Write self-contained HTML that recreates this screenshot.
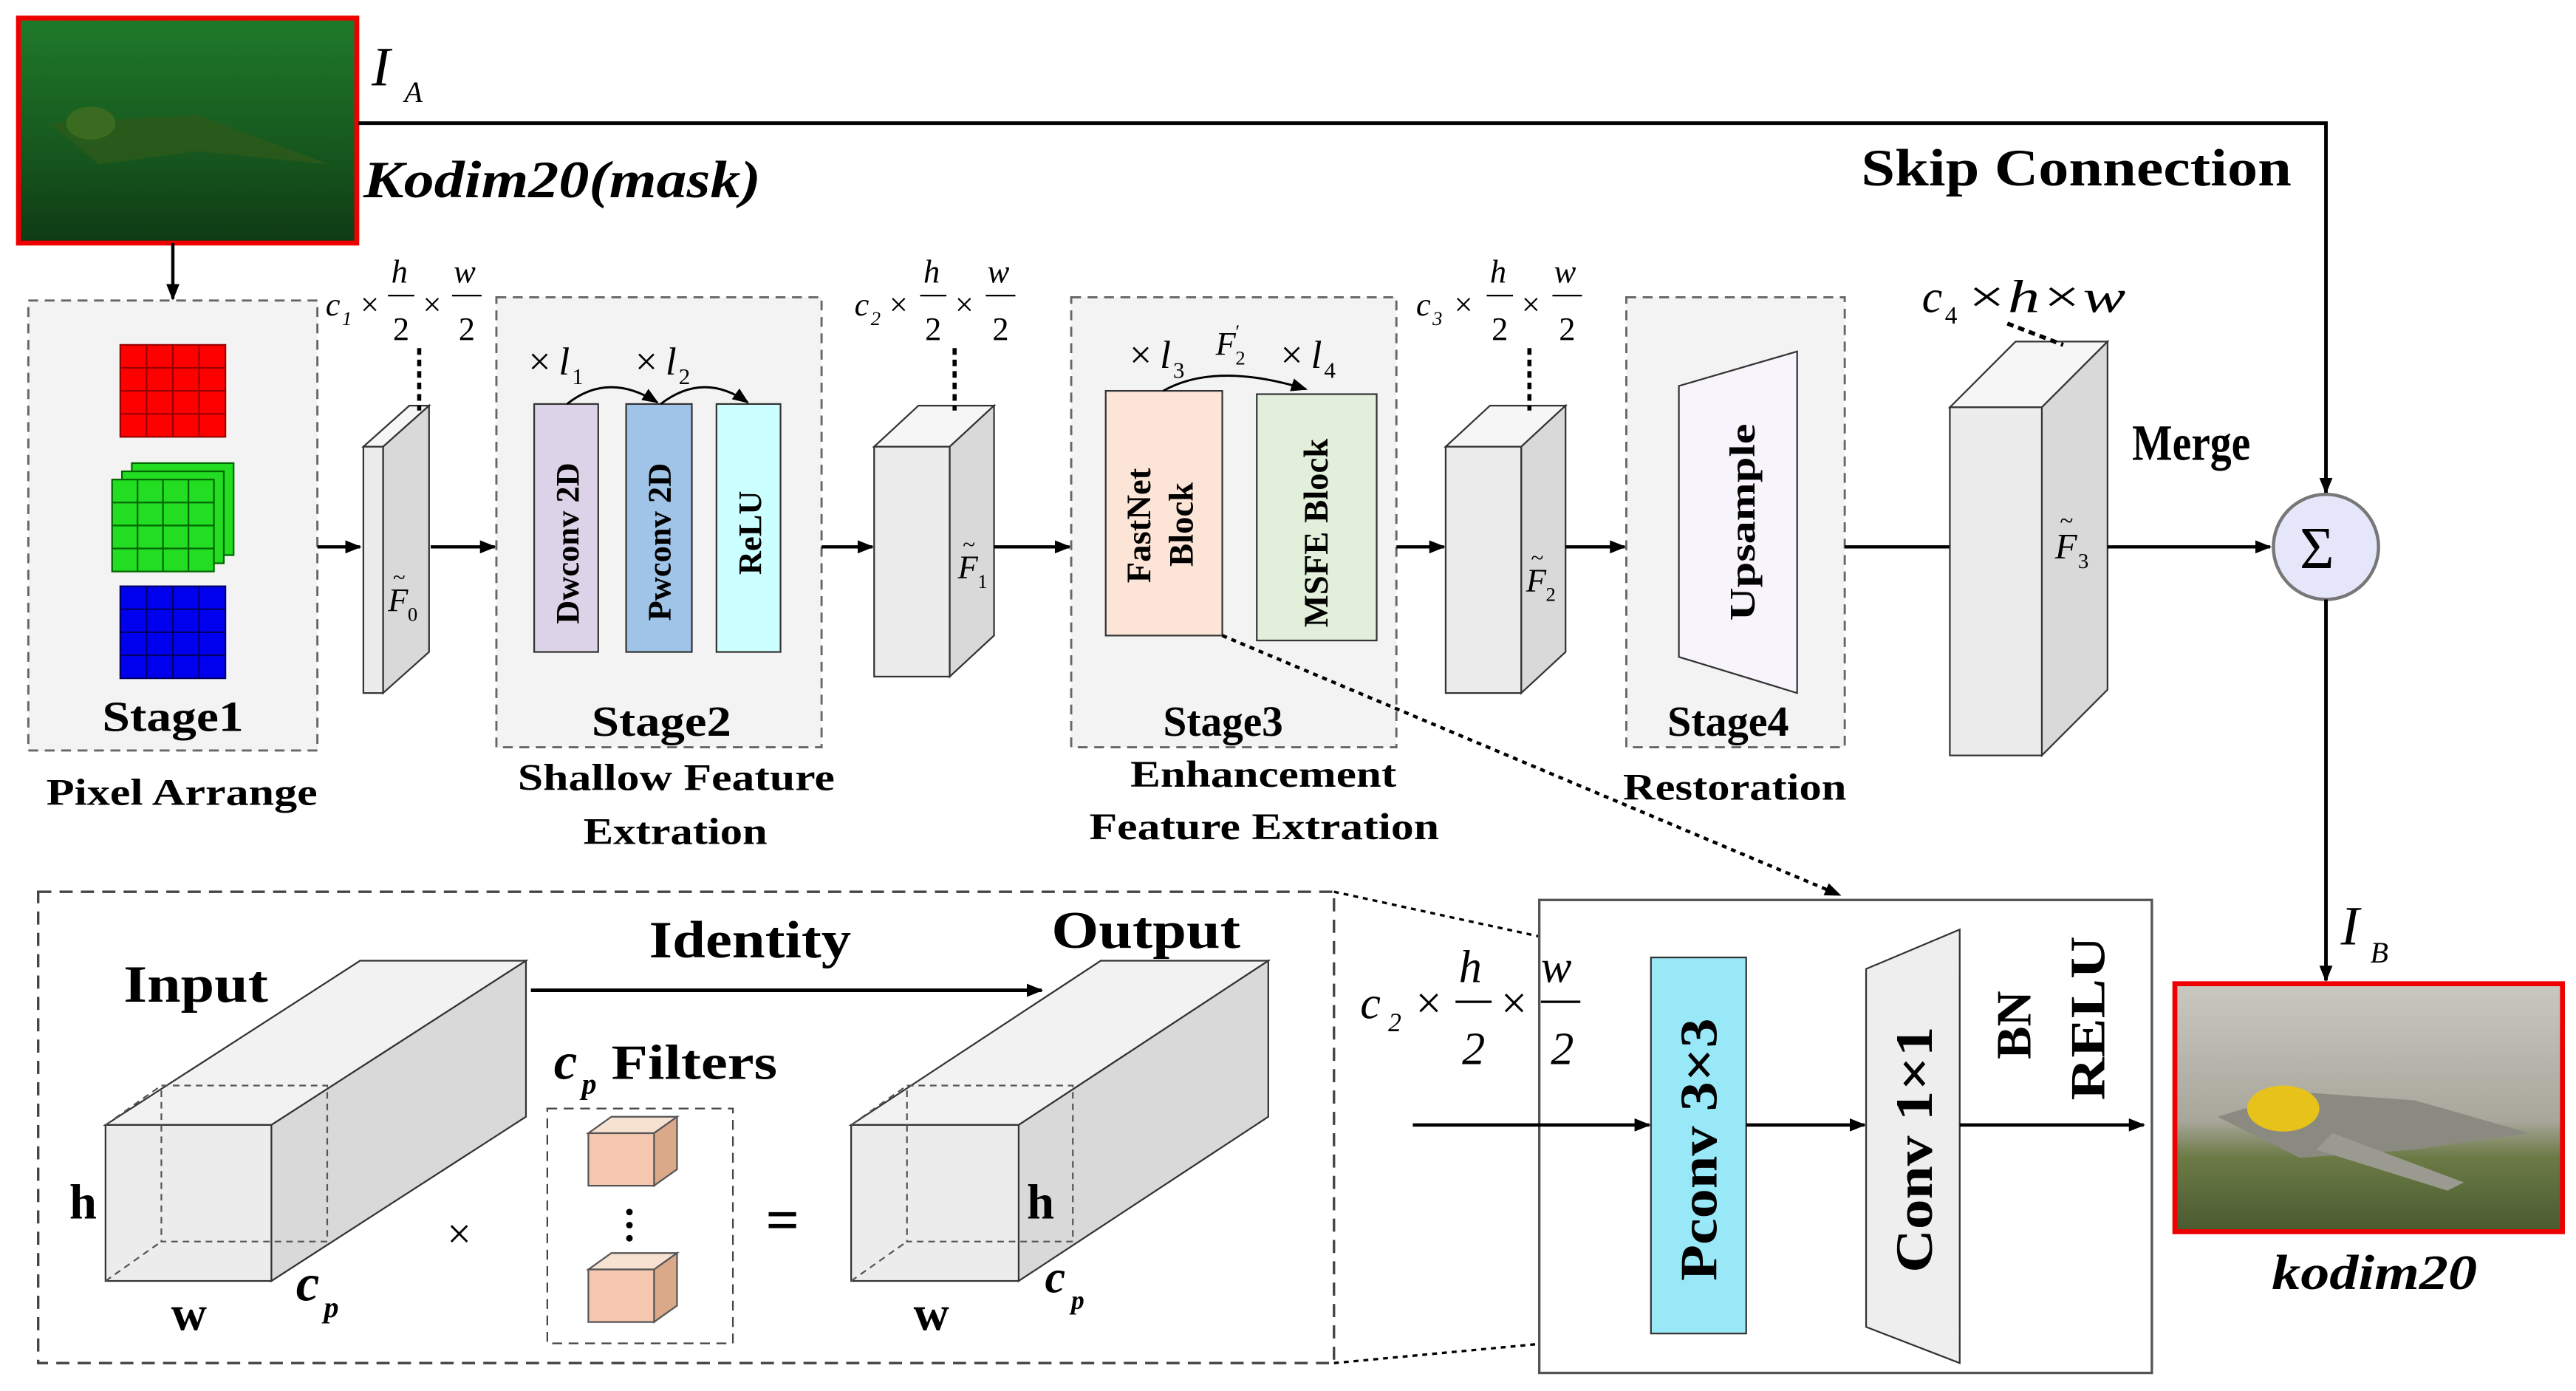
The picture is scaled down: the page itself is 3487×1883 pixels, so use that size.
<!DOCTYPE html>
<html><head><meta charset="utf-8"><style>
html,body{margin:0;padding:0;background:#fff;}
svg{display:block;}
text{font-family:"Liberation Serif",serif;fill:#000;}
.b{font-weight:bold;}
.i{font-style:italic;}
</style></head><body>
<svg width="3487" height="1883" viewBox="0 0 1568 847" xmlns="http://www.w3.org/2000/svg">
<defs>
<marker id="a" markerWidth="10" markerHeight="8" refX="9" refY="4" orient="auto" markerUnits="userSpaceOnUse"><path d="M0,0 L10,4 L0,8 z" fill="#000"/></marker>
<linearGradient id="g1" x1="0" y1="0" x2="0" y2="1"><stop offset="0" stop-color="#1f7a2a"/><stop offset="0.6" stop-color="#16571e"/><stop offset="1" stop-color="#0f3a14"/></linearGradient>
<linearGradient id="g2" x1="0" y1="0" x2="0" y2="1"><stop offset="0" stop-color="#c9c8c0"/><stop offset="0.55" stop-color="#a9a79c"/><stop offset="0.7" stop-color="#6b7a45"/><stop offset="1" stop-color="#4a5a30"/></linearGradient>
</defs>
<rect width="1568" height="847" fill="#fff"/>

<rect x="11" y="11" width="206" height="137" fill="url(#g1)" stroke="#e00" stroke-width="3"/>
<path d="M30,75 L120,70 L200,100 L120,92 L60,100 Z" fill="#2d5a1a" opacity="0.8"/>
<ellipse cx="55" cy="75" rx="15" ry="10" fill="#3b6b20"/>
<text x="226" y="52" class="i" font-size="34">I</text><text x="246" y="62" class="i" font-size="18">A</text>
<text x="221" y="120" class="b i" font-size="32" textLength="242" lengthAdjust="spacingAndGlyphs">Kodim20(mask)</text>
<text x="1133" y="113" class="b" font-size="32" textLength="262" lengthAdjust="spacingAndGlyphs">Skip Connection</text>
<polyline points="218,75 1416,75 1416,300" fill="none" stroke="#000" stroke-width="2.2" marker-end="url(#a)"/>
<line x1="105" y1="148" x2="105" y2="182" stroke="#000" stroke-width="2" marker-end="url(#a)"/>

<rect x="17" y="183" width="176" height="274" fill="#f3f3f3" stroke="#666" stroke-dasharray="6,4" stroke-width="1.3"/>
<g stroke="#900" stroke-width="1"><rect x="73" y="210" width="64" height="56" fill="#f00"/>
<path d="M89 210V266M105 210V266M121 210V266M73 224H137M73 238H137M73 252H137"/></g>
<g stroke="#060" stroke-width="1" fill="#22dd22">
<rect x="80" y="282" width="62" height="56"/><rect x="74" y="287" width="62" height="56"/><rect x="68" y="292" width="62" height="56"/>
<path d="M83.5 292V348M99 292V348M114.5 292V348M68 306H130M68 320H130M68 334H130"/></g>
<g stroke="#006" stroke-width="1"><rect x="73" y="357" width="64" height="56" fill="#0000ee"/>
<path d="M89 357V413M105 357V413M121 357V413M73 371H137M73 385H137M73 399H137"/></g>
<text x="62" y="445" class="b" font-size="26" textLength="86" lengthAdjust="spacingAndGlyphs">Stage1</text>
<text x="28" y="490" class="b" font-size="23" textLength="165" lengthAdjust="spacingAndGlyphs">Pixel Arrange</text>
<line x1="193" y1="333" x2="219" y2="333" stroke="#000" stroke-width="2" marker-end="url(#a)"/>

<polygon points="221,272 233,272 261,247 249,247" fill="#f6f6f6" stroke="#333"/>
<polygon points="233,272 261,247 261,397 233,422" fill="#d9d9d9" stroke="#333"/>
<rect x="221" y="272" width="12" height="150" fill="#ececec" stroke="#333"/>
<text x="236" y="372" class="i" font-size="20">F</text><text x="239" y="356" font-size="14">~</text><text x="248" y="378" font-size="12">0</text>
<line x1="255" y1="212" x2="255" y2="250" stroke="#000" stroke-width="2.5" stroke-dasharray="4,3"/>
<g font-size="20" class="i"><text x="198" y="192">c</text><text x="208" y="198" font-size="12">1</text><text x="218" y="192">×</text>
<text x="238" y="172">h</text><line x1="236" y1="180" x2="252" y2="180" stroke="#000"/><text x="239" y="207" font-style="normal">2</text>
<text x="256" y="192">×</text><text x="276" y="172">w</text><line x1="275" y1="180" x2="293" y2="180" stroke="#000"/><text x="279" y="207" font-style="normal">2</text></g>
<line x1="262" y1="333" x2="301" y2="333" stroke="#000" stroke-width="2" marker-end="url(#a)"/>

<rect x="302" y="181" width="198" height="274" fill="#f3f3f3" stroke="#666" stroke-dasharray="6,4" stroke-width="1.3"/>
<rect x="325" y="246" width="39" height="151" fill="#dcd3e8" stroke="#333"/>
<rect x="381" y="246" width="40" height="151" fill="#9fc4e8" stroke="#333"/>
<rect x="436" y="246" width="39" height="151" fill="#ccffff" stroke="#333"/>
<text transform="translate(352,380) rotate(-90)" class="b" font-size="20">Dwconv 2D</text>
<text transform="translate(408,378) rotate(-90)" class="b" font-size="20">Pwconv 2D</text>
<text transform="translate(463,350) rotate(-90)" class="b" font-size="20">ReLU</text>
<text x="320" y="228" class="i" font-size="24">×</text><text x="340" y="228" class="i" font-size="24">l</text><text x="348" y="234" font-size="14">1</text>
<text x="385" y="228" class="i" font-size="24">×</text><text x="405" y="228" class="i" font-size="24">l</text><text x="413" y="234" font-size="14">2</text>
<path d="M345,246 Q370,226 400,245" fill="none" stroke="#000" stroke-width="1.3" marker-end="url(#a)"/>
<path d="M402,246 Q428,226 455,245" fill="none" stroke="#000" stroke-width="1.3" marker-end="url(#a)"/>
<text x="360" y="448" class="b" font-size="26" textLength="85" lengthAdjust="spacingAndGlyphs">Stage2</text>
<text x="315" y="481" class="b" font-size="23" textLength="193" lengthAdjust="spacingAndGlyphs">Shallow Feature</text>
<text x="355" y="514" class="b" font-size="23" textLength="112" lengthAdjust="spacingAndGlyphs">Extration</text>
<line x1="500" y1="333" x2="531" y2="333" stroke="#000" stroke-width="2" marker-end="url(#a)"/>

<polygon points="532,272 578,272 605,247 559,247" fill="#f6f6f6" stroke="#333"/>
<polygon points="578,272 605,247 605,387 578,412" fill="#d9d9d9" stroke="#333"/>
<rect x="532" y="272" width="46" height="140" fill="#ececec" stroke="#333"/>
<text x="583" y="352" class="i" font-size="20">F</text><text x="586" y="336" font-size="14">~</text><text x="595" y="358" font-size="12">1</text>
<line x1="581" y1="212" x2="581" y2="250" stroke="#000" stroke-width="2.5" stroke-dasharray="4,3"/>
<g font-size="20" class="i"><text x="520" y="192">c</text><text x="530" y="198" font-size="12">2</text><text x="540" y="192">×</text>
<text x="562" y="172">h</text><line x1="560" y1="180" x2="576" y2="180" stroke="#000"/><text x="563" y="207" font-style="normal">2</text>
<text x="580" y="192">×</text><text x="601" y="172">w</text><line x1="600" y1="180" x2="618" y2="180" stroke="#000"/><text x="604" y="207" font-style="normal">2</text></g>
<line x1="605" y1="333" x2="651" y2="333" stroke="#000" stroke-width="2" marker-end="url(#a)"/>

<rect x="652" y="181" width="198" height="274" fill="#f3f3f3" stroke="#666" stroke-dasharray="6,4" stroke-width="1.3"/>
<rect x="673" y="238" width="71" height="149" fill="#fce4d6" stroke="#333"/>
<rect x="765" y="240" width="73" height="150" fill="#e2efda" stroke="#333"/>
<text transform="translate(700,355) rotate(-90)" class="b" font-size="21">FastNet</text>
<text transform="translate(726,345) rotate(-90)" class="b" font-size="21">Block</text>
<text transform="translate(808,382) rotate(-90)" class="b" font-size="21">MSFE Block</text>
<text x="686" y="224" class="i" font-size="24">×</text><text x="706" y="224" class="i" font-size="24">l</text><text x="714" y="230" font-size="14">3</text>
<text x="740" y="216" class="i" font-size="20">F</text><text x="752" y="206" font-size="12">′</text><text x="752" y="222" font-size="12">2</text>
<text x="778" y="224" class="i" font-size="24">×</text><text x="798" y="224" class="i" font-size="24">l</text><text x="806" y="230" font-size="14">4</text>
<path d="M708,238 Q740,220 795,237" fill="none" stroke="#000" stroke-width="1.3" marker-end="url(#a)"/>
<text x="708" y="448" class="b" font-size="26" textLength="73" lengthAdjust="spacingAndGlyphs">Stage3</text>
<text x="688" y="479" class="b" font-size="23" textLength="162" lengthAdjust="spacingAndGlyphs">Enhancement</text>
<text x="663" y="511" class="b" font-size="23" textLength="213" lengthAdjust="spacingAndGlyphs">Feature Extration</text>
<line x1="744" y1="387" x2="1120" y2="545" stroke="#000" stroke-width="2" stroke-dasharray="3,3" marker-end="url(#a)"/>
<line x1="850" y1="333" x2="879" y2="333" stroke="#000" stroke-width="2" marker-end="url(#a)"/>

<polygon points="880,272 926,272 953,247 907,247" fill="#f6f6f6" stroke="#333"/>
<polygon points="926,272 953,247 953,397 926,422" fill="#d9d9d9" stroke="#333"/>
<rect x="880" y="272" width="46" height="150" fill="#ececec" stroke="#333"/>
<text x="929" y="360" class="i" font-size="20">F</text><text x="932" y="344" font-size="14">~</text><text x="941" y="366" font-size="12">2</text>
<line x1="931" y1="212" x2="931" y2="250" stroke="#000" stroke-width="2.5" stroke-dasharray="4,3"/>
<g font-size="20" class="i"><text x="862" y="192">c</text><text x="872" y="198" font-size="12">3</text><text x="884" y="192">×</text>
<text x="907" y="172">h</text><line x1="905" y1="180" x2="921" y2="180" stroke="#000"/><text x="908" y="207" font-style="normal">2</text>
<text x="925" y="192">×</text><text x="946" y="172">w</text><line x1="945" y1="180" x2="963" y2="180" stroke="#000"/><text x="949" y="207" font-style="normal">2</text></g>
<line x1="953" y1="333" x2="989" y2="333" stroke="#000" stroke-width="2" marker-end="url(#a)"/>

<rect x="990" y="181" width="133" height="274" fill="#f3f3f3" stroke="#666" stroke-dasharray="6,4" stroke-width="1.3"/>
<polygon points="1022,235 1094,214 1094,422 1022,400" fill="#f8f4fc" stroke="#333"/>
<text transform="translate(1068,378) rotate(-90)" class="b" font-size="22" textLength="120" lengthAdjust="spacingAndGlyphs">Upsample</text>
<text x="1015" y="448" class="b" font-size="26" textLength="74" lengthAdjust="spacingAndGlyphs">Stage4</text>
<text x="988" y="487" class="b" font-size="23" textLength="136" lengthAdjust="spacingAndGlyphs">Restoration</text>
<line x1="1123" y1="333" x2="1187" y2="333" stroke="#000" stroke-width="2"/>

<polygon points="1187,248 1243,248 1283,208 1227,208" fill="#f6f6f6" stroke="#333"/>
<polygon points="1243,248 1283,208 1283,420 1243,460" fill="#d9d9d9" stroke="#333"/>
<rect x="1187" y="248" width="56" height="212" fill="#ececec" stroke="#333"/>
<text x="1251" y="340" class="i" font-size="22">F</text><text x="1254" y="322" font-size="15">~</text><text x="1265" y="346" font-size="13">3</text>
<line x1="1222" y1="197" x2="1256" y2="210" stroke="#000" stroke-width="2.5" stroke-dasharray="4,3"/>
<text x="1170" y="190" class="i" font-size="28">c</text><text x="1184" y="197" font-size="15">4</text><text x="1196" y="190" class="i" font-size="28" textLength="98" lengthAdjust="spacingAndGlyphs">×h×w</text>
<line x1="1283" y1="333" x2="1382" y2="333" stroke="#000" stroke-width="2" marker-end="url(#a)"/>
<text x="1298" y="280" class="b" font-size="31" textLength="72" lengthAdjust="spacingAndGlyphs">Merge</text>

<circle cx="1416" cy="333" r="32" fill="#e6e6fa" stroke="#777" stroke-width="2"/>
<text x="1400" y="346" font-size="36" fill="#333">Σ</text>
<line x1="1416" y1="365" x2="1416" y2="597" stroke="#000" stroke-width="2.2" marker-end="url(#a)"/>
<text x="1425" y="575" class="i" font-size="34">I</text><text x="1443" y="586" class="i" font-size="18">B</text>

<rect x="1324" y="599" width="236" height="151" fill="url(#g2)" stroke="#e00" stroke-width="3"/>
<path d="M1350,680 L1400,665 L1470,670 L1540,690 L1470,700 L1400,705 Z" fill="#8a8a80"/>
<ellipse cx="1390" cy="675" rx="22" ry="14" fill="#e6c21a"/>
<path d="M1420,690 L1500,720 L1490,725 L1410,700 Z" fill="#9a9a90"/>
<text x="1383" y="785" class="b i" font-size="30" textLength="125" lengthAdjust="spacingAndGlyphs">kodim20</text>

<rect x="23" y="543" width="789" height="287" fill="#fff" stroke="#444" stroke-dasharray="8,5" stroke-width="1.5"/>
<line x1="812" y1="543" x2="1005" y2="585" stroke="#000" stroke-width="1.5" stroke-dasharray="3,3"/>
<line x1="812" y1="830" x2="1005" y2="812" stroke="#000" stroke-width="1.5" stroke-dasharray="3,3"/>

<polygon points="64,685 165,685 320,585 219,585" fill="#f2f2f2" stroke="#333"/>
<polygon points="165,685 320,585 320,680 165,780" fill="#d9d9d9" stroke="#333"/>
<rect x="64" y="685" width="101" height="95" fill="#ececec" stroke="#333"/>
<g fill="none" stroke="#555" stroke-dasharray="4,3"><rect x="98" y="661" width="101" height="95"/><line x1="64" y1="780" x2="98" y2="756"/><line x1="64" y1="685" x2="98" y2="661"/></g>
<text x="75" y="610" class="b" font-size="32" textLength="88" lengthAdjust="spacingAndGlyphs">Input</text>
<text x="42" y="742" class="b" font-size="30">h</text>
<text x="104" y="810" class="b" font-size="30">w</text>
<text x="180" y="792" class="b i" font-size="32">c</text><text x="197" y="802" class="b i" font-size="18">p</text>
<text x="272" y="760" font-size="26">×</text>
<line x1="323" y1="603" x2="634" y2="603" stroke="#000" stroke-width="2.2" marker-end="url(#a)"/>
<text x="395" y="583" class="b" font-size="32" textLength="123" lengthAdjust="spacingAndGlyphs">Identity</text>

<rect x="333" y="675" width="113" height="143" fill="#fff" stroke="#444" stroke-dasharray="6,4"/>
<text x="337" y="657" class="b i" font-size="32">c</text><text x="354" y="666" class="b i" font-size="18">p</text><text x="372" y="657" class="b" font-size="30" textLength="101" lengthAdjust="spacingAndGlyphs">Filters</text>
<g stroke="#555"><polygon points="358,690 398,690 412,680 372,680" fill="#f7e1d0"/><polygon points="398,690 412,680 412,712 398,722" fill="#d9a98a"/><rect x="358" y="690" width="40" height="32" fill="#f4c7ae"/>
<polygon points="358,773 398,773 412,763 372,763" fill="#f7e1d0"/><polygon points="398,773 412,763 412,795 398,805" fill="#d9a98a"/><rect x="358" y="773" width="40" height="32" fill="#f4c7ae"/></g>
<circle cx="383" cy="738" r="2" fill="#000"/><circle cx="383" cy="746" r="2" fill="#000"/><circle cx="383" cy="754" r="2" fill="#000"/>
<text x="466" y="755" class="b" font-size="36">=</text>

<polygon points="518,685 620,685 772,585 670,585" fill="#f2f2f2" stroke="#333"/>
<polygon points="620,685 772,585 772,680 620,780" fill="#d9d9d9" stroke="#333"/>
<rect x="518" y="685" width="102" height="95" fill="#ececec" stroke="#333"/>
<g fill="none" stroke="#555" stroke-dasharray="4,3"><rect x="552" y="661" width="101" height="95"/><line x1="518" y1="780" x2="552" y2="756"/><line x1="518" y1="685" x2="552" y2="661"/></g>
<text x="640" y="577" class="b" font-size="32" textLength="115" lengthAdjust="spacingAndGlyphs">Output</text>
<text x="625" y="742" class="b" font-size="30">h</text>
<text x="556" y="810" class="b" font-size="30">w</text>
<text x="636" y="787" class="b i" font-size="28">c</text><text x="652" y="797" class="b i" font-size="16">p</text>

<rect x="937" y="548" width="373" height="288" fill="#fff" stroke="#555" stroke-width="1.5"/>
<rect x="1005" y="583" width="58" height="229" fill="#99e8f7" stroke="#333"/>
<text transform="translate(1045,780) rotate(-90)" class="b" font-size="32" textLength="160" lengthAdjust="spacingAndGlyphs">Pconv 3×3</text>
<polygon points="1136,590 1193,566 1193,830 1136,808" fill="#eeeeee" stroke="#333"/>
<text transform="translate(1176,775) rotate(-90)" class="b" font-size="32" textLength="150" lengthAdjust="spacingAndGlyphs">Conv 1×1</text>
<text transform="translate(1236,645) rotate(-90)" class="b" font-size="30">BN</text>
<text transform="translate(1281,670) rotate(-90)" class="b" font-size="30" textLength="100" lengthAdjust="spacingAndGlyphs">RELU</text>
<line x1="860" y1="685" x2="1004" y2="685" stroke="#000" stroke-width="2" marker-end="url(#a)"/>
<line x1="1063" y1="685" x2="1135" y2="685" stroke="#000" stroke-width="2" marker-end="url(#a)"/>
<line x1="1193" y1="685" x2="1305" y2="685" stroke="#000" stroke-width="2" marker-end="url(#a)"/>
<g class="i" font-size="28"><text x="828" y="620" class="i">c</text><text x="845" y="628" font-size="16">2</text><text x="860" y="620" class="i">×</text>
<text x="888" y="598" class="i">h</text><line x1="886" y1="610" x2="908" y2="610" stroke="#000" stroke-width="1.5"/><text x="890" y="648">2</text>
<text x="912" y="620" class="i">×</text><text x="938" y="598" class="i">w</text><line x1="938" y1="610" x2="962" y2="610" stroke="#000" stroke-width="1.5"/><text x="944" y="648">2</text></g>
</svg>
</body></html>
